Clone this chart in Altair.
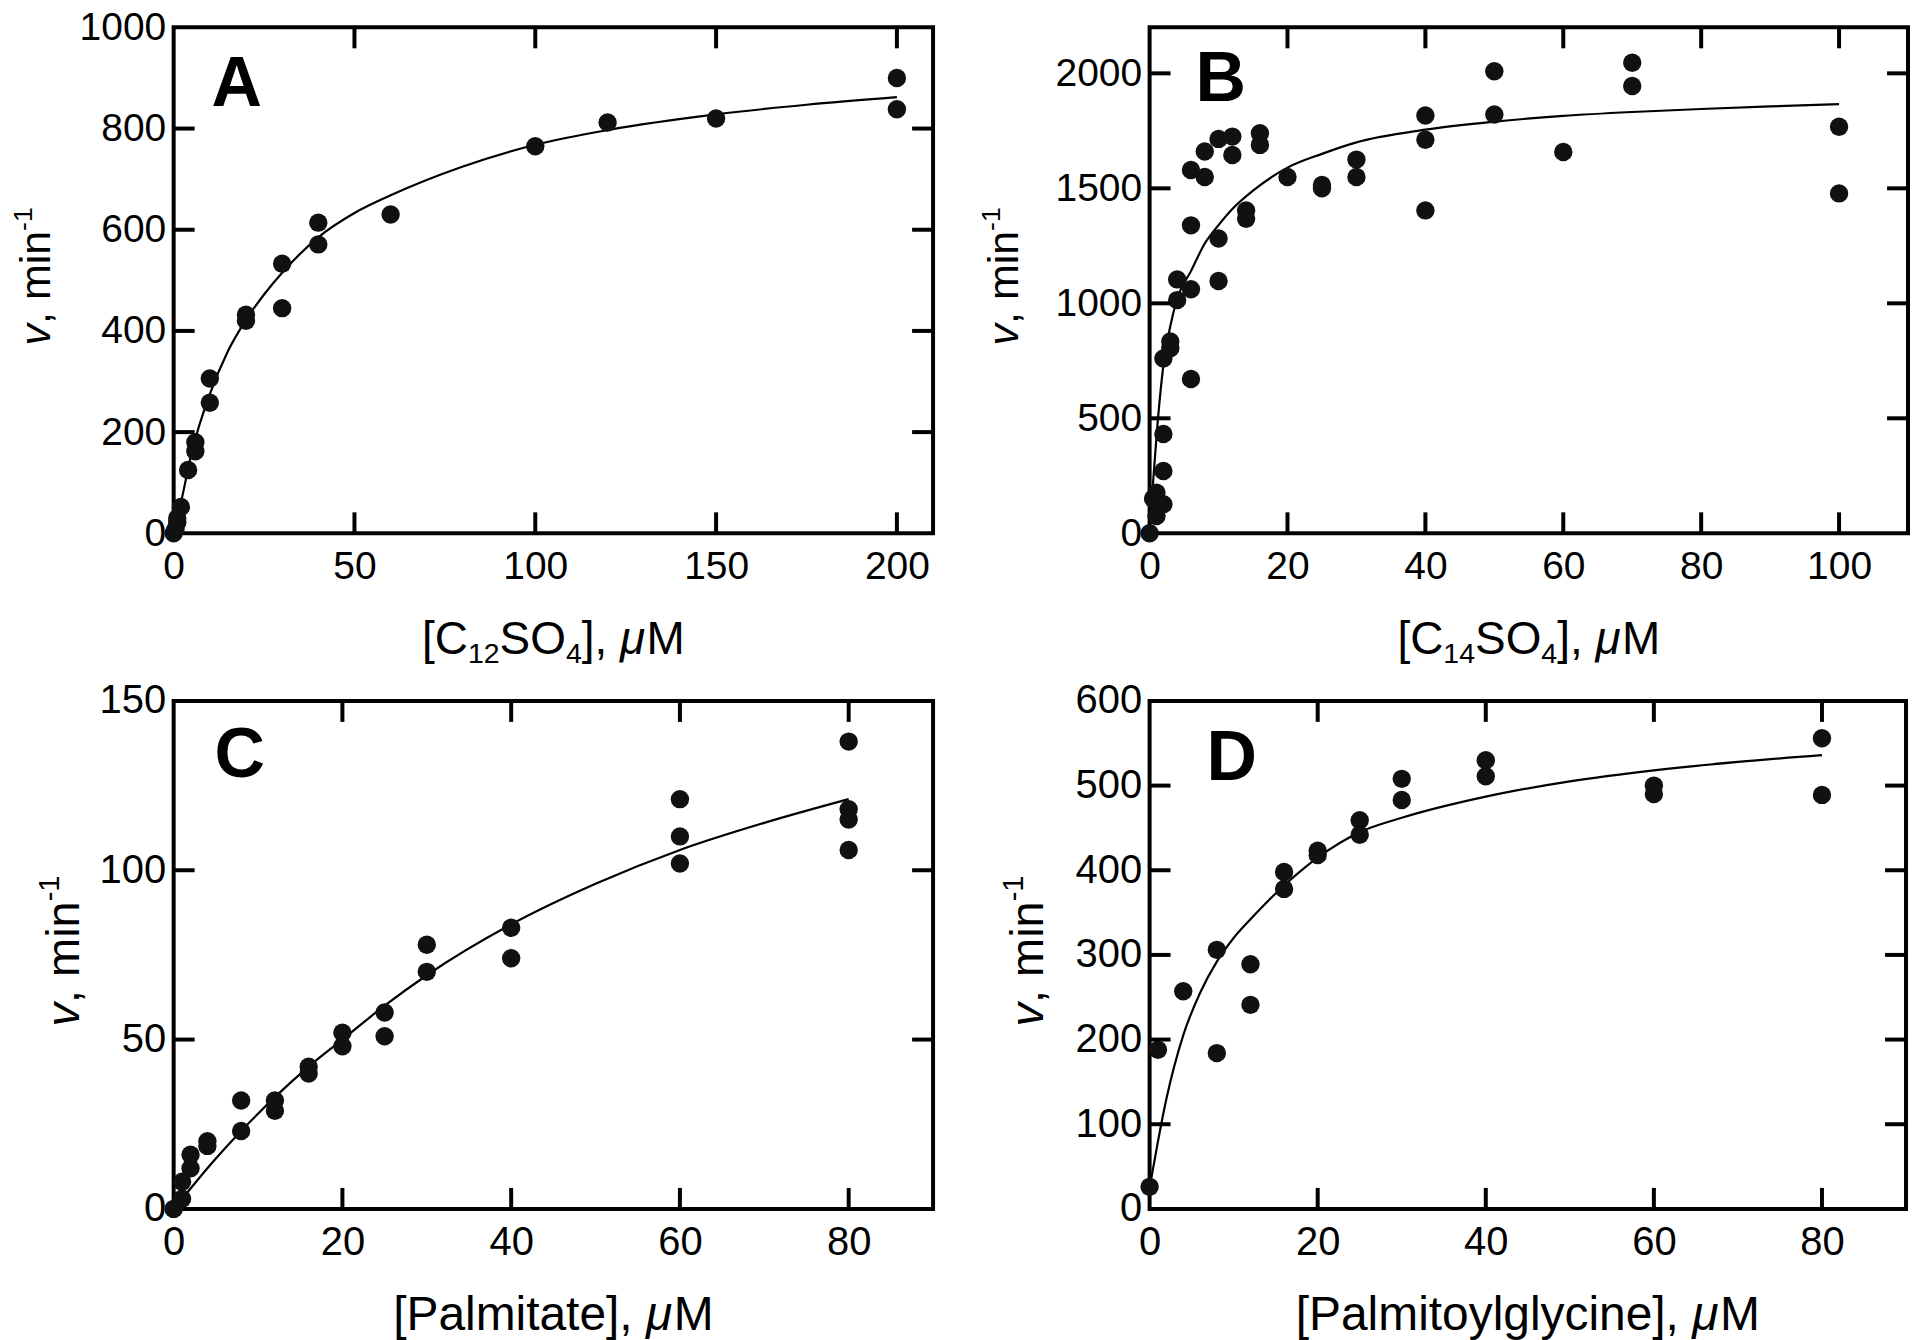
import altair as alt
import pandas as pd

# ---------------- data ----------------
# Panel A : C12SO4
A_x = [0, 0.5, 1, 1, 2, 4, 6, 6, 10, 10, 20, 20, 30, 30, 40, 40, 60, 100, 120, 150, 200, 200]
A_y = [0, 8, 22, 30, 52, 125, 180, 162, 306, 258, 432, 420, 533, 445, 614, 571, 630, 765, 812, 820, 900, 838]
A_fit_x = [0, 2, 5, 10, 15, 20, 25, 30, 40, 50, 60, 80, 100, 120, 150, 175, 200]
A_fit_y = [0, 60, 160, 275, 360, 422, 472, 515, 585, 633, 668, 725, 768, 797, 828, 847, 862]

# Panel B : C14SO4
B_x = [0, 0.5, 1, 1, 2, 2, 2, 2, 3, 3, 4, 4, 6, 6, 6, 6, 8, 8, 10, 10, 10, 12, 12, 14, 14,
       16, 16, 20, 25, 25, 30, 30, 40, 40, 40, 50, 50, 60, 70, 70, 100, 100]
B_y = [0, 150, 176, 75, 126, 760, 432, 271, 834, 805, 1104, 1014, 1580, 1339, 1061, 671, 1660, 1549,
       1715, 1282, 1097, 1725, 1645, 1404, 1368, 1740, 1689, 1549, 1500, 1515, 1625, 1549, 1817, 1711,
       1404, 2009, 1821, 1658, 2046, 1945, 1768, 1478]
B_fit_x = [0, 0.5, 1, 2, 3, 4, 6, 8, 10, 12, 15, 20, 25, 30, 40, 50, 60, 70, 80, 90, 100]
B_fit_y = [0, 220, 420, 730, 900, 1020, 1140, 1260, 1340, 1410, 1490, 1590, 1650, 1700, 1755, 1790,
           1815, 1832, 1845, 1856, 1866]

# Panel C : Palmitate
C_x = [0, 1, 1, 2, 2, 4, 4, 8, 8, 12, 12, 16, 16, 20, 20, 25, 25, 30, 30, 40, 40, 60, 60, 60, 80, 80, 80, 80]
C_y = [0, 3, 8, 12, 16, 20, 18.6, 32, 23, 32, 29, 42, 40, 52, 48, 58, 51, 78, 70, 83, 74, 121, 110, 102,
       138, 118, 115, 106]
C_fit_x = [0, 2, 4, 8, 12, 16, 20, 25, 30, 40, 50, 60, 70, 80]
C_fit_y = [0, 6, 12, 23, 33, 42, 50, 60, 69, 84, 96, 106, 114, 121]

# Panel D : Palmitoylglycine
D_x = [0, 1, 4, 8, 8, 12, 12, 16, 16, 20, 20, 25, 25, 30, 30, 40, 40, 60, 60, 80, 80]
D_y = [26, 188, 257, 306, 184, 289, 241, 398, 378, 423, 418, 459, 442, 508, 483, 530, 511, 500, 490, 556, 489]
D_fit_x = [0, 1, 2, 4, 6, 8, 10, 12, 16, 20, 25, 30, 40, 50, 60, 70, 80]
D_fit_y = [25, 80, 130, 205, 255, 292, 320, 342, 382, 415, 445, 462, 487, 505, 518, 528, 536]

# axis tick values
A_xticks = [0, 50, 100, 150, 200]
A_yticks = [0, 200, 400, 600, 800, 1000]
B_xticks = [0, 20, 40, 60, 80, 100]
B_yticks = [0, 500, 1000, 1500, 2000]
C_xticks = [0, 20, 40, 60, 80]
C_yticks = [0, 50, 100, 150]
D_xticks = [0, 20, 40, 60, 80]
D_yticks = [0, 100, 200, 300, 400, 500, 600]

# ---------------- styling helpers ----------------
FONT = "Liberation Sans"
ADV = {' ': 278, ',': 278, '-': 333, '[': 278, ']': 278, 'A': 667, 'B': 667, 'C': 722, 'D': 722,
       'M': 833, 'O': 778, 'P': 667, 'S': 667, 'a': 556, 'c': 500, 'e': 556, 'g': 556, 'i': 222,
       'l': 222, 'm': 833, 'n': 556, 'o': 556, 't': 278, 'v': 500, 'y': 500, '\u03bc': 576}
for d in '0123456789':
    ADV[d] = 556


def tw(s, size):
    return sum(ADV.get(c, 556) for c in s) * size / 1000.0


DUMMY = pd.DataFrame({"d": [0]})
TICK_LEN = 21
TICK_W = 4


def txt(text, x, y, size, align="left", baseline="alphabetic", angle=0, style="normal", weight="normal"):
    kw = dict(text=text, font=FONT, fontSize=size, align=align, baseline=baseline,
              color="black", fontStyle=style, fontWeight=weight)
    if angle:
        kw["angle"] = angle
    return alt.Chart(DUMMY).mark_text(**kw).encode(x=alt.value(x), y=alt.value(y))


def x_title(parts, cx, base, f):
    sf = 0.62 * f
    widths = [tw(s, sf if k == "sub" else f) for s, k in parts]
    x = cx - sum(widths) / 2
    out = []
    for (s, k), w in zip(parts, widths):
        if k == "sub":
            out.append(txt(s, x, base + 0.2 * f, sf))
        elif k == "it":
            out.append(txt(s, x, base, f, style="italic"))
        else:
            out.append(txt(s, x, base, f))
        x += w
    return out


def y_title(cy, bx, f):
    sf = 0.62 * f
    parts = [("v", "it"), (", min", "n"), ("-1", "sup")]
    widths = [tw(s, sf if k == "sup" else f) for s, k in parts]
    y = cy + sum(widths) / 2
    out = []
    for (s, k), w in zip(parts, widths):
        if k == "sup":
            out.append(txt(s, bx - 0.42 * f, y, sf, angle=270))
        elif k == "it":
            out.append(txt(s, bx, y, f, angle=270, style="italic"))
        else:
            out.append(txt(s, bx, y, f, angle=270))
        y -= w
    return out


def panel(xs, ys, fx, fy, xdom, ydom, xticks, yticks, W, H, letter, lpos, xparts,
          ybase, tick_fs, title_fs, ytitle_fs):
    X = alt.X("x:Q", title=None, scale=alt.Scale(domain=xdom, nice=False, zero=False),
              axis=alt.Axis(values=xticks, ticks=False, tickSize=0, domain=False, grid=False,
                            labelFont=FONT, labelFontSize=tick_fs, labelColor="black",
                            labelPadding=14, labelOverlap=False, labelFlush=False, format="d"))
    Y = alt.Y("y:Q", title=None, scale=alt.Scale(domain=ydom, nice=False, zero=False),
              axis=alt.Axis(values=yticks, ticks=False, tickSize=0, domain=False, grid=False,
                            labelFont=FONT, labelFontSize=tick_fs, labelColor="black",
                            labelPadding=8, labelOverlap=False, labelFlush=False, format="d"))
    pts = pd.DataFrame({"x": xs, "y": ys})
    fit = pd.DataFrame({"x": fx, "y": fy})
    inner_x = pd.DataFrame({"x": [v for v in xticks if xdom[0] < v < xdom[1]]})
    inner_y = pd.DataFrame({"y": [v for v in yticks if ydom[0] < v < ydom[1]]})

    layers = [
        alt.Chart(fit).mark_line(color="black", strokeWidth=2.2, interpolate="monotone").encode(x=X, y=Y),
        alt.Chart(pts).mark_circle(color="#111111", opacity=1, size=340).encode(x=X, y=Y),
        alt.Chart(inner_y).mark_rule(color="black", strokeWidth=TICK_W).encode(
            y=Y, x=alt.value(0), x2=alt.value(TICK_LEN)),
        alt.Chart(inner_y).mark_rule(color="black", strokeWidth=TICK_W).encode(
            y=Y, x=alt.value(W - TICK_LEN), x2=alt.value(W)),
        alt.Chart(inner_x).mark_rule(color="black", strokeWidth=TICK_W).encode(
            x=X, y=alt.value(H - TICK_LEN), y2=alt.value(H)),
        alt.Chart(inner_x).mark_rule(color="black", strokeWidth=TICK_W).encode(
            x=X, y=alt.value(0), y2=alt.value(TICK_LEN)),
        txt(letter, lpos[0], lpos[1], 70, weight="bold"),
    ]
    layers += x_title(xparts, W / 2, H + 121, title_fs)
    layers += y_title(H / 2 - 4, ybase, ytitle_fs)
    return alt.layer(*layers).properties(width=W, height=H)


MU = "\u03bc"
pA = panel(A_x, A_y, A_fit_x, A_fit_y, [0, 210], [0, 1000], A_xticks, A_yticks, 761, 507, "A", (38, 79),
           [("[C", "n"), ("12", "sub"), ("SO", "n"), ("4", "sub"), ("], ", "n"), (MU, "it"), ("M", "n")],
           -124, 39, 46, 43)
pB = panel(B_x, B_y, B_fit_x, B_fit_y, [0, 110], [0, 2200], B_xticks, B_yticks, 760, 507, "B", (46, 74),
           [("[C", "n"), ("14", "sub"), ("SO", "n"), ("4", "sub"), ("], ", "n"), (MU, "it"), ("M", "n")],
           -132, 39, 46, 43)
pC = panel(C_x, C_y, C_fit_x, C_fit_y, [0, 90], [0, 150], C_xticks, C_yticks, 761, 509, "C", (41, 76),
           [("[Palmitate], ", "n"), (MU, "it"), ("M", "n")],
           -95, 40, 48, 47)
pD = panel(D_x, D_y, D_fit_x, D_fit_y, [0, 90], [0, 600], D_xticks, D_yticks, 758, 509, "D", (57, 79),
           [("[Palmitoylglycine], ", "n"), (MU, "it"), ("M", "n")],
           -107, 40, 48, 47)

chart = alt.concat(pA, pB, pC, pD, columns=2, spacing={"row": 168, "column": 217},
                   bounds="flush").properties(
    padding={"left": 0, "top": -3, "right": 0, "bottom": 0},
    background="white",
).configure_view(stroke="black", strokeWidth=4)

chart.save("out.html", embed_options={"renderer": "svg", "actions": False})
